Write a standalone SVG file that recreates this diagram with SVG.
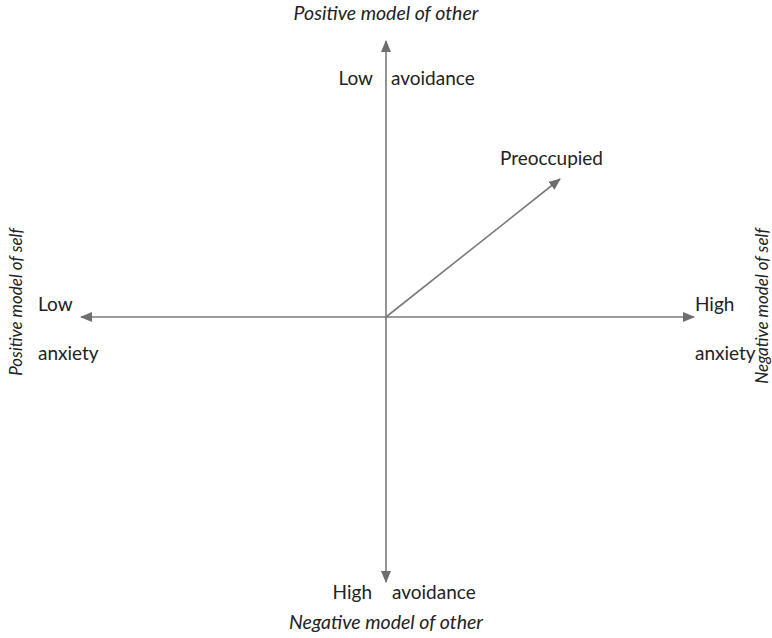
<svg xmlns="http://www.w3.org/2000/svg" width="772" height="638" viewBox="0 0 772 638">
<style>
.t{font-family:Lato,"Open Sans","Liberation Sans",sans-serif;font-size:19px;fill:#222}
.i{font-family:Lato,"Open Sans","Liberation Sans",sans-serif;font-size:19.5px;font-style:italic;fill:#222}
.r{font-family:Lato,"Open Sans","Liberation Sans",sans-serif;font-size:17px;font-style:italic;fill:#222}
.ax{stroke:#7a7a7a;stroke-width:1.6;fill:none}
</style>
<defs>
<marker id="ah" viewBox="0 0 12 10" refX="11" refY="5" markerWidth="12" markerHeight="10" markerUnits="userSpaceOnUse" orient="auto">
<path d="M0,0 L12,5 L0,10 Z" fill="#6e6e6e"/>
</marker>
</defs>
<rect width="772" height="638" fill="#fff"/>
<g id="connectors">
<line class="ax" x1="386" y1="317" x2="386" y2="41" marker-end="url(#ah)"/>
<line class="ax" x1="386" y1="317" x2="386" y2="582" marker-end="url(#ah)"/>
<line class="ax" x1="386" y1="317" x2="81" y2="317" marker-end="url(#ah)"/>
<line class="ax" x1="386" y1="317" x2="694" y2="317" marker-end="url(#ah)"/>
<line class="ax" x1="386" y1="317" x2="560" y2="179" marker-end="url(#ah)"/>
</g>
<g id="top">
<text class="i" x="386" y="20" text-anchor="middle">Positive model of other</text>
<text class="t" x="373" y="85" text-anchor="end">Low</text>
<text class="t" x="391" y="85">avoidance</text>
</g>
<g id="preoccupied">
<text class="t" x="500" y="165">Preoccupied</text>
</g>
<g id="left">
<text class="t" x="38" y="311">Low</text>
<text class="t" x="38" y="360">anxiety</text>
<text class="r" transform="translate(22,302) rotate(-90)" text-anchor="middle">Positive model of self</text>
</g>
<g id="right">
<text class="t" x="695" y="311">High</text>
<text class="t" x="695" y="360">anxiety</text>
<text class="r" transform="translate(768,306) rotate(-90)" text-anchor="middle">Negative model of self</text>
</g>
<g id="bottom">
<text class="t" x="372" y="599" text-anchor="end">High</text>
<text class="t" x="392" y="599">avoidance</text>
<text class="i" x="386" y="629" text-anchor="middle">Negative model of other</text>
</g>
</svg>
